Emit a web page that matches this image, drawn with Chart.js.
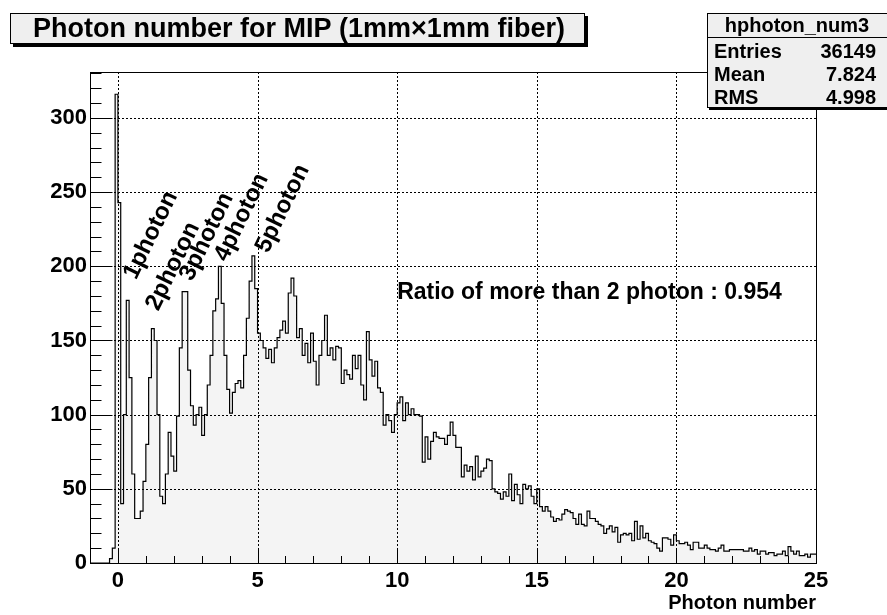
<!DOCTYPE html>
<html><head><meta charset="utf-8">
<script src="https://cdn.jsdelivr.net/npm/chart.js@4.4.0/dist/chart.umd.min.js"></script>
<style>html,body{margin:0;padding:0;background:#fff;}</style>
</head><body>
<canvas id="c" width="887" height="615"></canvas>
<script>
// ---- data ----
const binStart = -1.0;     // lower edge of first bin
const binWidth = 0.1;      // bin width (photon number)
const counts = [
  0,0,0,0,0,0,0,0,3,10,
  316,243,40,100,177,125,60,30,30,35,
  55,80,125,158,150,100,45,40,60,88,
  72,62,99,145,183,183,130,106,93,100,
  105,86,100,120,140,170,178,200,175,140,
  117,101,115,121,123,118,140,165,190,207,
  185,155,150,145,138,144,135,145,152,157,
  163,155,182,192,180,152,158,140,148,135,
  155,136,120,140,150,167,140,145,137,146,
  145,121,130,127,124,140,131,140,120,110,
  156,137,126,136,118,115,93,100,96,88,
  100,108,112,96,108,100,104,100,100,99,
  68,85,70,82,88,85,84,84,80,86,
  95,86,78,78,58,66,62,65,56,72,
  58,62,64,70,69,50,48,47,43,48,
  45,60,42,53,46,40,53,50,52,45,
  40,50,38,35,38,35,31,28,30,29,
  33,36,35,34,30,26,33,26,25,35,
  30,30,28,26,25,20,23,25,21,24,
  14,19,20,19,20,15,28,16,25,17,
  20,15,14,13,10,8,17,17,16,12,
  19,15,13,13,14,12,9,14,14,10,
  10,12,10,9,9,8,10,12,8,8,
  9,9,9,9,9,8,8,10,8,9,
  6,8,8,6,7,7,5,6,6,8,
  5,11,8,6,8,5,5,6,4,6
];
const xTicks = [0,5,10,15,20,25];
const yTicks = [0,50,100,150,200,250,300];
const titleText = 'Photon number for MIP (1mm\u00d71mm fiber)';
const xAxisTitle = 'Photon number';
const statsName = 'hphoton_num3';
const statsLabels = ['Entries','Mean','RMS'];
const statsValues = ['36149','7.824','4.998'];
const peakLabels = ['1photon','2photon','3photon','4photon','5photon'];
const ratioText = 'Ratio of more than 2 photon : 0.954';

// ---- build step points ----
const pts = counts.map((c,i)=>({x: binStart + i*binWidth, y: c}));
pts.push({x: binStart + counts.length*binWidth, y: counts[counts.length-1]});

const FONT = "'Liberation Sans', Arial, Helvetica, sans-serif";

// positions of annotations (data coordinates), kept separate from data
const peakLabelAnchors = [[1.18,221],[1.97,200],[3.18,220],[4.43,233],[5.90,239]];

const decor = {
  id:'decor',
  afterDatasetsDraw(chart){
    const ctx = chart.ctx, xs = chart.scales.x, ys = chart.scales.y;
    const a = chart.chartArea;
    ctx.save();
    // dotted grid
    ctx.strokeStyle = '#000'; ctx.lineWidth = 1; ctx.setLineDash([2,2]);
    xTicks.forEach(v=>{ const px = Math.round(xs.getPixelForValue(v))+0.5;
      ctx.beginPath(); ctx.moveTo(px,a.top); ctx.lineTo(px,a.bottom); ctx.stroke(); });
    yTicks.forEach(v=>{ if(v===0) return; const py = Math.round(ys.getPixelForValue(v))+0.5;
      ctx.beginPath(); ctx.moveTo(a.left,py); ctx.lineTo(a.right,py); ctx.stroke(); });
    ctx.setLineDash([]);
    // frame
    ctx.strokeRect(Math.round(a.left)+0.5, Math.round(a.top)+0.5, Math.round(a.right-a.left), Math.round(a.bottom-a.top));
    // ticks inside
    const bot = Math.round(a.bottom)+0.5, lef = Math.round(a.left)+0.5;
    for(let v=-1; v<=25; v++){
      const px = Math.round(xs.getPixelForValue(v))+0.5;
      const len = (v%5===0)? 15 : 7.5;
      ctx.beginPath(); ctx.moveTo(px,bot); ctx.lineTo(px,bot-len); ctx.stroke();
    }
    for(let v=0; v<=330; v+=10){
      const py = Math.round(ys.getPixelForValue(v))+0.5;
      const len = (v%50===0)? 22 : 11;
      ctx.beginPath(); ctx.moveTo(lef,py); ctx.lineTo(lef+len,py); ctx.stroke();
    }
    // peak labels
    ctx.fillStyle = '#000';
    ctx.font = 'bold 24px ' + FONT;
    ctx.textAlign = 'center'; ctx.textBaseline = 'middle';
    peakLabels.forEach((t,i)=>{
      const px = xs.getPixelForValue(peakLabelAnchors[i][0]);
      const py = ys.getPixelForValue(peakLabelAnchors[i][1]);
      ctx.save(); ctx.translate(px,py); ctx.rotate(-64*Math.PI/180);
      ctx.fillText(t,0,0); ctx.restore();
    });
    // ratio text
    ctx.font = 'bold 23px ' + FONT;
    ctx.textAlign = 'left';
    ctx.fillText(ratioText, xs.getPixelForValue(10.0), ys.getPixelForValue(182));
    // title box
    ctx.fillStyle = '#000';
    ctx.fillRect(13,16,575,31);
    ctx.fillStyle = '#efefef';
    ctx.fillRect(10,13,575,30);
    ctx.strokeRect(10.5,13.5,574,30);
    ctx.fillStyle = '#000';
    ctx.font = 'bold 27px ' + FONT;
    ctx.textAlign = 'center';
    ctx.fillText(titleText, 299, 30);
    // stats box
    ctx.fillStyle = '#000';
    ctx.fillRect(709,15,180,95);
    ctx.fillStyle = '#efefef';
    ctx.fillRect(707,13,182,94);
    ctx.strokeRect(707.5,13.5,182,94);
    ctx.beginPath(); ctx.moveTo(707,37.5); ctx.lineTo(887,37.5); ctx.stroke();
    ctx.fillStyle = '#000';
    ctx.font = 'bold 20px ' + FONT;
    ctx.textAlign = 'center';
    ctx.fillText(statsName, 797, 26);
    const rowsY = [52,75,98];
    statsLabels.forEach((t,i)=>{
      ctx.textAlign = 'left'; ctx.fillText(t, 714, rowsY[i]);
      ctx.textAlign = 'right'; ctx.fillText(statsValues[i], 876, rowsY[i]);
    });
    ctx.restore();
  }
};

new Chart(document.getElementById('c'), {
  type:'line',
  data:{ datasets:[{
    data: pts, stepped:'after', borderColor:'#000', borderWidth:1.2,
    backgroundColor:'#f4f4f4', fill:'origin', pointRadius:0, tension:0
  }]},
  options:{
    responsive:false, animation:false, devicePixelRatio:1,
    layout:{padding:{left:0,right:71,top:72,bottom:0}},
    plugins:{legend:{display:false}, tooltip:{enabled:false}, title:{display:false}},
    scales:{
      x:{ type:'linear', min:-1, max:25,
        grid:{display:false, drawTicks:false}, border:{display:false},
        afterBuildTicks: s=>{ s.ticks = xTicks.map(v=>({value:v})); },
        afterFit: s=>{ s.height = 52; },
        ticks:{ font:{family:FONT, weight:'bold', size:22}, color:'#000', padding:5, maxRotation:0, autoSkip:false },
        title:{ display:true, text:xAxisTitle, align:'end', color:'#000',
          font:{family:FONT, weight:'bold', size:20}, padding:{top:0,bottom:0} }
      },
      y:{ min:0, max:331,
        grid:{display:false, drawTicks:false}, border:{display:false},
        afterBuildTicks: s=>{ s.ticks = yTicks.map(v=>({value:v})); },
        afterFit: s=>{ s.width = 90; },
        ticks:{ font:{family:FONT, weight:'bold', size:22}, color:'#000', padding:3 }
      }
    }
  },
  plugins:[decor]
});
</script>
</body></html>
